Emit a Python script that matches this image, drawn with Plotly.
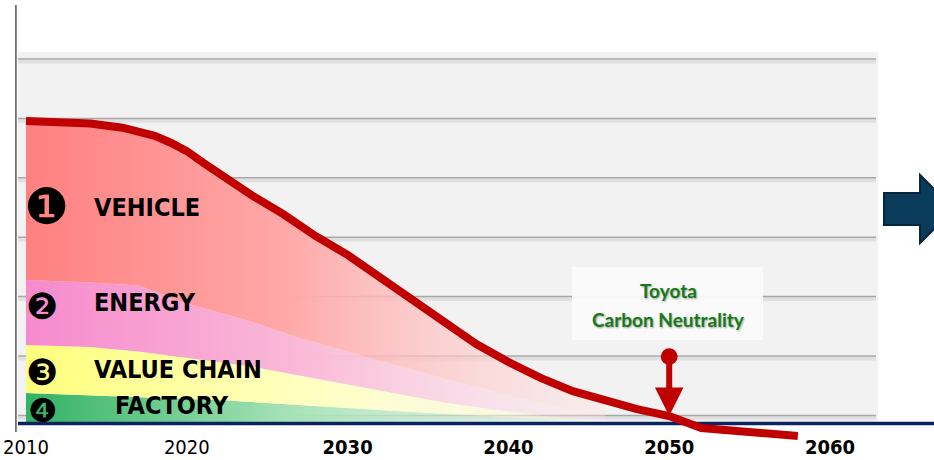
import plotly.graph_objects as go

# ---- emissions pathway (index, 2010 level ~100) ----
line_years = [2010, 2012, 2014, 2016, 2018, 2019, 2020, 2021, 2022, 2024, 2026, 2028,
              2030, 2032, 2034, 2036, 2038, 2040, 2042, 2044, 2046, 2048, 2050, 2052, 2058]
line_values = [100.8, 100.6, 100.0, 98.6, 95.9, 93.6, 90.8, 87.0, 83.2, 76.2, 69.8, 62.5,
               56.2, 48.8, 41.2, 33.8, 26.5, 20.5, 15.2, 10.8, 7.5, 4.8, 2.5, -1.5, -4.2]

# ---- stacked contributions by source ----
area_years = [2010, 2014, 2017, 2020, 2022, 2024, 2027, 2030, 2033, 2036, 2040, 2043, 2046]
factory = [10.2, 9.5, 8.8, 8.2, 7.8, 7.2, 6.2, 5.2, 4.2, 3.2, 2.0, 1.2, 0.5]
value_chain = [16.0, 16.0, 15.2, 13.8, 12.7, 11.8, 9.8, 7.8, 5.8, 3.8, 2.0, 1.0, 0.5]
energy = [21.6, 21.5, 22.0, 18.0, 16.5, 15.0, 12.5, 11.0, 9.5, 8.0, 5.5, 3.3, 1.5]
vehicle = [53.0, 53.0, 51.3, 50.8, 46.2, 42.2, 37.7, 32.2, 25.5, 18.8, 11.0, 7.5, 5.5]

tick_years = [2010, 2020, 2030, 2040, 2050, 2060]
tick_text = ["2010", "2020", "<b>2030</b>", "<b>2040</b>", "<b>2050</b>", "<b>2060</b>"]

neutral_year = 2050

# ---- geometry ----
W, H = 934, 460
M_L, M_R, M_T, M_B = 15, 0, 5, 15
X_RANGE = [2009.316, 2066.468]
Y_RANGE = [-7.17, 139.5]
PW, PH = W - M_L - M_R, H - M_T - M_B


def px(x):
    return (x - M_L) / PW


def py(y):
    return (H - M_B - y) / PH


NARROW = "DejaVu Sans Condensed, DejaVu Sans, sans-serif"

fig = go.Figure()

layers = [
    ("FACTORY", factory, [[0, "rgb(50,178,100)"], [0.45, "rgb(165,226,182)"], [1, "rgba(225,246,230,0.3)"]]),
    ("VALUE CHAIN", value_chain, [[0, "rgb(255,255,125)"], [0.5, "rgb(255,255,195)"], [1, "rgba(255,255,228,0.3)"]]),
    ("ENERGY", energy, [[0, "rgb(246,138,205)"], [0.5, "rgb(250,188,216)"], [1, "rgba(255,228,236,0.3)"]]),
    ("VEHICLE", vehicle, [[0, "rgb(255,128,128)"], [0.45, "rgb(255,168,168)"], [1, "rgba(255,226,226,0.4)"]]),
]
for name, vals, scale in layers:
    fig.add_trace(go.Scatter(
        x=area_years, y=vals, name=name, stackgroup="src", mode="lines",
        line=dict(width=0), fillgradient=dict(type="horizontal", colorscale=scale),
        hoverinfo="skip", showlegend=False,
    ))

# zero baseline
fig.add_trace(go.Scatter(
    x=[2009.502, X_RANGE[1]], y=[0, 0], mode="lines",
    line=dict(color="#0b2461", width=3.5), hoverinfo="skip", showlegend=False,
))

# total emissions pathway
fig.add_trace(go.Scatter(
    x=line_years, y=line_values, mode="lines",
    line=dict(color="#c00000", width=8), hoverinfo="skip", showlegend=False,
))

shapes = []
# grey panel
shapes.append(dict(type="rect", xref="paper", yref="paper", x0=px(18), x1=px(878),
                   y0=py(425), y1=py(52), fillcolor="#f2f2f2", line=dict(width=0), layer="below"))
# ruled lines
for k in range(7):
    lvl = 2.7 + 19.8 * k
    shapes.append(dict(type="line", xref="paper", yref="y", x0=px(18), x1=px(876),
                       y0=lvl - 0.8, y1=lvl - 0.8, line=dict(color="rgba(0,0,0,0.07)", width=4),
                       layer="below"))
    shapes.append(dict(type="line", xref="paper", yref="y", x0=px(18), x1=px(876),
                       y0=lvl, y1=lvl, line=dict(color="#a8a8a8", width=1.5), layer="below"))
# vertical axis rule
shapes.append(dict(type="line", xref="paper", yref="paper", x0=0.001, x1=0.001,
                   y0=py(432), y1=1, line=dict(color="#555555", width=1.5)))
# label box
shapes.append(dict(type="rect", xref="paper", yref="paper", x0=px(572), x1=px(763),
                   y0=py(340), y1=py(267), fillcolor="rgba(250,250,250,0.95)",
                   line=dict(width=0), layer="below"))
# navy block arrow at right
arrow_pts = [(884, 193), (920, 193), (920, 175), (954, 209), (920, 243), (920, 225), (884, 225)]
path = "M" + " L".join(f"{px(a):.4f},{py(b):.4f}" for a, b in arrow_pts) + " Z"
shapes.append(dict(type="path", xref="paper", yref="paper", path=path,
                   fillcolor="#0a3b5a", line=dict(color="#05263c", width=2)))

annotations = []
# source labels
label_font = dict(family=NARROW, size=25, color="black")
for text, xp, yp in [("<b>VEHICLE</b>", 92, 207), ("<b>ENERGY</b>", 92, 302),
                     ("<b>VALUE CHAIN</b>", 92, 369), ("<b>FACTORY</b>", 113, 405)]:
    annotations.append(dict(text=text, xref="paper", yref="paper", x=px(xp), y=py(yp),
                            xanchor="left", yanchor="middle", showarrow=False, font=label_font))
# numbered markers
for text, xp, yp, sz in [("❶", 46, 207, 50), ("❷", 42, 307, 36), ("❸", 42, 372, 36), ("❹", 43, 410, 33)]:
    annotations.append(dict(text=text, xref="paper", yref="paper", x=px(xp), y=py(yp),
                            xanchor="center", yanchor="middle", showarrow=False,
                            font=dict(family="DejaVu Sans", size=sz, color="black")))
# neutrality caption
cap_font = dict(family="Lato", size=19, color="#167a1c", weight="bold",
                shadow="1px 1px 2px rgba(0,0,0,0.35)")
annotations.append(dict(text="Toyota", xref="paper", yref="paper", x=px(668), y=py(290),
                        xanchor="center", yanchor="middle", showarrow=False, font=cap_font))
annotations.append(dict(text="Carbon Neutrality", xref="paper", yref="paper", x=px(668), y=py(320),
                        xanchor="center", yanchor="middle", showarrow=False, font=cap_font))
# pointer to the neutrality year
annotations.append(dict(text="", x=neutral_year, y=line_values[line_years.index(neutral_year)],
                        xref="x", yref="y", ax=neutral_year, ay=22.8, axref="x", ayref="y",
                        showarrow=True, arrowhead=2, arrowsize=0.95, arrowwidth=6,
                        arrowcolor="#c00000", arrowside="end+start", startarrowhead=6,
                        startarrowsize=0.7, standoff=0, startstandoff=0))

fig.update_layout(
    width=W, height=H,
    margin=dict(l=M_L, r=M_R, t=M_T, b=M_B, autoexpand=False),
    paper_bgcolor="white", plot_bgcolor="white",
    showlegend=False,
    xaxis=dict(range=X_RANGE, tickvals=tick_years, ticktext=tick_text, ticks="",
               showgrid=False, zeroline=False, showline=False, ticklabelstandoff=-12,
               ticklabeloverflow="allow", automargin=False,
               tickfont=dict(family=NARROW, size=20, color="black"), fixedrange=True),
    yaxis=dict(range=Y_RANGE, visible=False, fixedrange=True),
    shapes=shapes, annotations=annotations,
)

fig.write_html("out.html")
